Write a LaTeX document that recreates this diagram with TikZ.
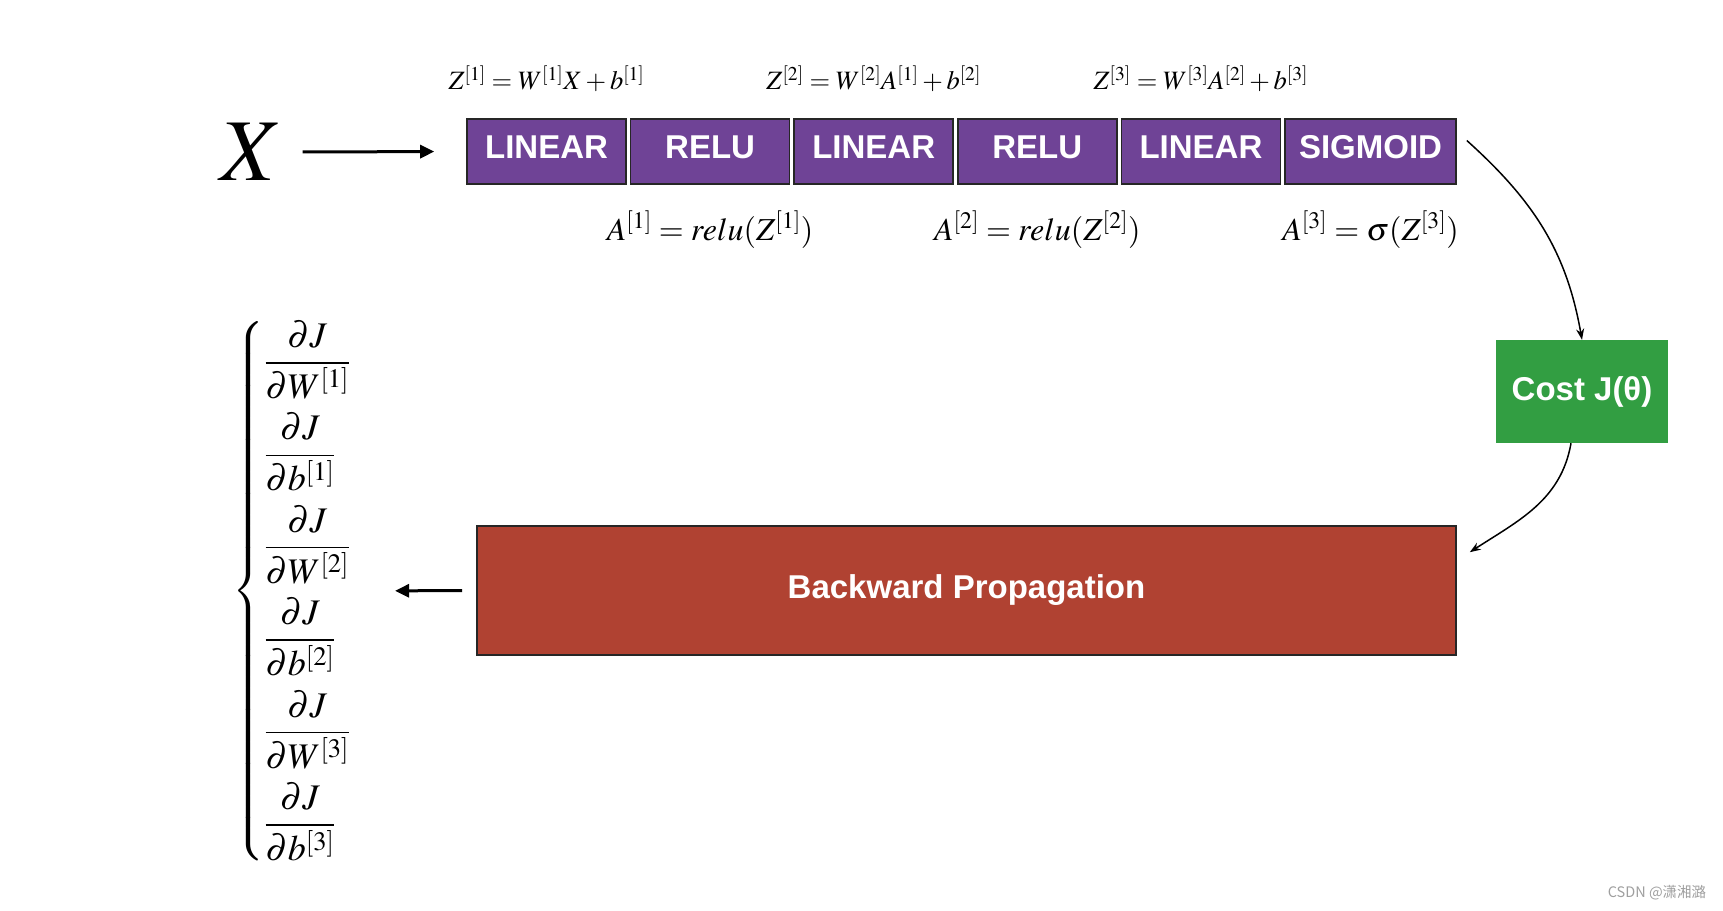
\documentclass[tikz,border=0pt]{standalone}
\usepackage{amsmath}
\usepackage{mathptmx}
\usepackage[no-math]{fontspec}
\setmainfont{Liberation Serif}
\setsansfont{Liberation Sans}
\newfontfamily\cjk{Noto Sans CJK SC}
\usepackage{xcolor}
\definecolor{layercol}{RGB}{111,67,150}
\definecolor{costcol}{RGB}{50,158,66}
\definecolor{backcol}{RGB}{176,66,50}
\usepackage{tikz}
\usetikzlibrary{arrows.meta,positioning,calc}
\tikzset{
  layer/.style={draw=black!85,line width=1.6pt,fill=layercol,text=white,%
    font=\fontsize{33}{38}\selectfont\sffamily\bfseries,minimum width=159pt,%
    minimum height=65pt,inner sep=0pt,text depth=9pt},
  costbox/.style={fill=costcol,text=white,font=\fontsize{33}{38}\selectfont\sffamily\bfseries,%
    minimum width=172pt,minimum height=103pt,inner sep=0pt},
  backbox/.style={draw=black!85,line width=1.6pt,fill=backcol,text=white,%
    font=\fontsize{33}{38}\selectfont\sffamily\bfseries,minimum width=979pt,%
    minimum height=129pt,inner sep=0pt},
  eqtop/.style={font=\fontsize{26.5}{30}\selectfont,inner sep=0pt},
  eqbot/.style={font=\fontsize{32}{38}\selectfont,inner sep=0pt},
  flow/.style={-{Triangle[length=14pt,width=13pt]},line width=3pt},
  curve/.style={-{Stealth[length=11pt,width=8pt]},line width=1.5pt},
}
\newcommand\rowgap{\\\noalign{\vskip 14pt}}

\begin{document}
\begin{tikzpicture}[x=1pt,y=1pt,node distance=3pt]
\useasboundingbox (0,0) rectangle (1723,-910);
% forward pass
\node (xin) at (252,-152) {\fontsize{88}{96}\selectfont$X$};
\node[layer] (lin1) at (546.5,-151.5) {LINEAR};
\node[layer,right=of lin1] (relu1) {RELU};
\node[layer,right=of relu1] (lin2) {LINEAR};
\node[layer,right=of lin2] (relu2) {RELU};
\node[layer,right=of relu2] (lin3) {LINEAR};
\node[layer,right=of lin3,minimum width=171pt] (sig) {SIGMOID};
\node[eqtop,above=26pt of lin1] (z1) {$Z^{[1]}=W^{[1]}X+b^{[1]}$};
\node[eqtop,above=26pt of lin2] (z2) {$Z^{[2]}=W^{[2]}A^{[1]}+b^{[2]}$};
\node[eqtop,above=26pt of lin3] (z3) {$Z^{[3]}=W^{[3]}A^{[2]}+b^{[3]}$};
\node[eqbot,below=26pt of relu1] (a1) {$A^{[1]}=relu(Z^{[1]})$};
\node[eqbot,below=26pt of relu2] (a2) {$A^{[2]}=relu(Z^{[2]})$};
\node[eqbot,below=26pt of sig] (a3) {$A^{[3]}=\sigma(Z^{[3]})$};
% cost and backward pass
\node[costbox] (cost) at (1582,-391.5) {Cost J(θ)};
\node[backbox] (back) at (966.5,-590.5) {Backward Propagation};
\node (grads) at (292,-591) {\fontsize{36}{40}\selectfont$\left\{\begin{array}{@{}l@{}}
  \dfrac{\partial J}{\partial W^{[1]}}\rowgap
  \dfrac{\partial J}{\partial b^{[1]}}\rowgap
  \dfrac{\partial J}{\partial W^{[2]}}\rowgap
  \dfrac{\partial J}{\partial b^{[2]}}\rowgap
  \dfrac{\partial J}{\partial W^{[3]}}\rowgap
  \dfrac{\partial J}{\partial b^{[3]}}
\end{array}\right.$};
\coordinate (sigout) at ($(sig.east)+(10,11)$);
\coordinate (backin) at ($(back.north east)+(13,-27)$);
\draw[flow,shorten <=16pt,shorten >=32pt] (xin.east) -- (lin1.west);
\draw[curve] (sigout) to[out=-42,in=100] (cost.north);
\draw[curve] ([xshift=-11pt]cost.south) to[out=-100,in=33] (backin);
\draw[flow,shorten <=14pt,shorten >=40pt] (back.west) -- (grads.east);
\node[font=\cjk\fontsize{14.5}{17}\selectfont,text=gray!75] (mark) at (1657,-893) {CSDN @潇湘潞};
\end{tikzpicture}
\end{document}
